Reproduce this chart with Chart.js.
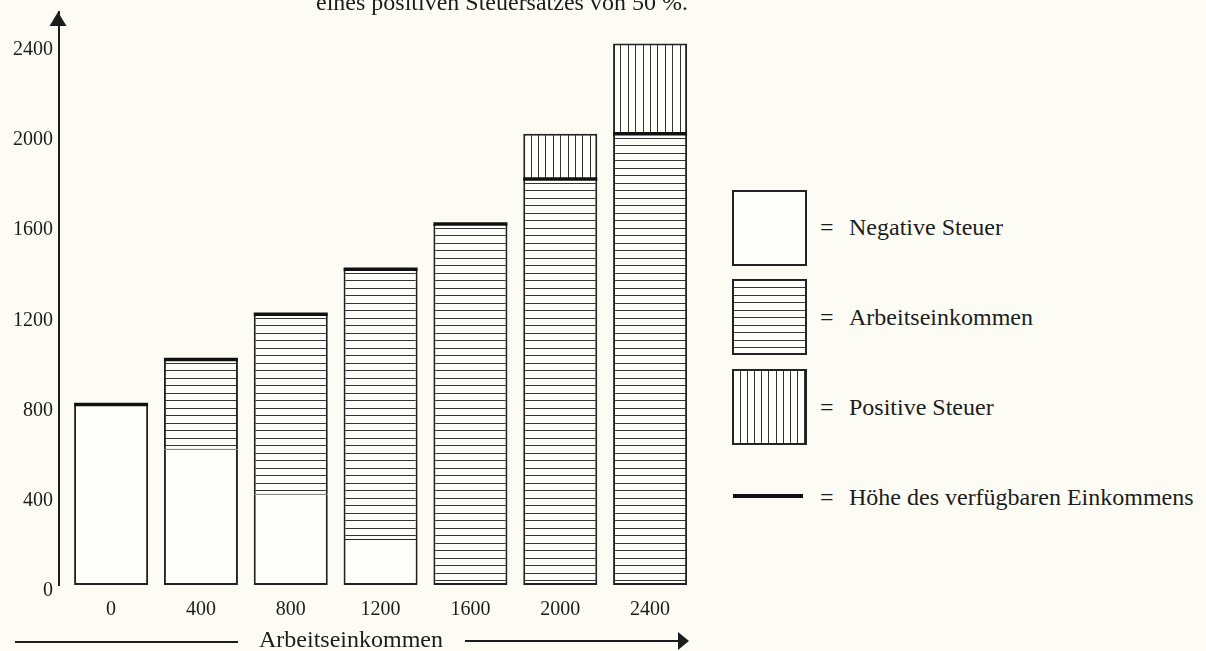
<!DOCTYPE html>
<html><head><meta charset="utf-8">
<script src="https://cdn.jsdelivr.net/npm/chart.js@4.4.1/dist/chart.umd.min.js"></script>
<style>
html,body{margin:0;padding:0;background:#fcfcf5;}
body{width:1206px;height:651px;position:relative;overflow:hidden;font-family:"Liberation Serif","DejaVu Serif",serif;color:#1c1c1c;}
#wrap{position:absolute;left:0;top:0;width:720px;height:651px;}
.title{position:absolute;left:316px;top:-9px;font-size:24px;line-height:22px;white-space:nowrap;}
.xt{position:absolute;left:259px;top:627px;font-size:24px;line-height:24px;white-space:nowrap;}
.ln{position:absolute;height:2px;background:#1c1c1c;}
.arrow{position:absolute;width:0;height:0;border-top:9px solid transparent;border-bottom:9px solid transparent;border-left:11px solid #1c1c1c;}
.box{position:absolute;left:732px;width:71px;height:72px;border:2px solid #222;background:#fefefb;}
.box.h{background:repeating-linear-gradient(to bottom,#fefefb 0px,#fefefb 6.5px,#333 6.5px,#333 7.5px);}
.box.v{background:repeating-linear-gradient(to right,#fefefb 0px,#fefefb 6.1px,#333 6.1px,#333 7.1px);}
.lgline{position:absolute;left:733px;width:70px;height:4px;background:#111;}
.lt{position:absolute;left:820px;font-size:24px;line-height:24px;white-space:nowrap;}
.lt span{display:inline-block;width:29px;}
</style></head><body>
<div id="wrap"><canvas id="c"></canvas></div>
<div class="title">eines positiven Steuersatzes von 50 %.</div>
<div class="ln" style="left:15px;top:641px;width:223px;"></div>
<div class="xt" id="xtitle"></div>
<div class="ln" style="left:465px;top:640px;width:215px;"></div>
<div class="arrow" style="left:678px;top:632px;"></div>
<div id="legend"></div>
<script>
// ---- data ----
const categories   = [0, 400, 800, 1200, 1600, 2000, 2400];
const negativeTax  = [800, 600, 400, 200, null, null, null];
const laborIncome  = [null, 400, 800, 1200, 1600, 1800, 2000];
const positiveTax  = [null, null, null, null, null, 200, 400];
const disposable   = [800, 1000, 1200, 1400, 1600, 1800, 2000];
const yTicks       = [0, 400, 800, 1200, 1600, 2000, 2400];
const seriesNames  = ['Negative Steuer', 'Arbeitseinkommen', 'Positive Steuer', 'Höhe des verfügbaren Einkommens'];
const xAxisTitle   = 'Arbeitseinkommen';

document.getElementById('xtitle').textContent = xAxisTitle;

// legend (HTML)
const lg = document.getElementById('legend');
const boxTops = [190, 279, 369];
const boxCls = ['', 'h', 'v'];
const textTops = [215, 305, 395, 485];
seriesNames.forEach((name, i) => {
  if (i < 3) {
    const b = document.createElement('div');
    b.className = 'box ' + boxCls[i];
    b.style.top = boxTops[i] + 'px';
    lg.appendChild(b);
  } else {
    const l = document.createElement('div');
    l.className = 'lgline';
    l.style.top = '494px';
    lg.appendChild(l);
  }
  const t = document.createElement('div');
  t.className = 'lt';
  t.style.top = textTops[i] + 'px';
  t.innerHTML = '<span>=</span>';
  t.appendChild(document.createTextNode(name));
  lg.appendChild(t);
});

const FILL = '#fefefb', EDGE = '#222', HATCH = '#333';
function hPattern() {
  const c = document.createElement('canvas');
  c.width = 8; c.height = 15;
  const g = c.getContext('2d');
  g.fillStyle = FILL; g.fillRect(0, 0, 8, 15);
  g.fillStyle = HATCH; g.fillRect(0, 3, 8, 1); g.fillRect(0, 10, 8, 1);
  return g.createPattern(c, 'repeat');
}
const toXY = arr => arr.map((v, i) => ({x: categories[i], y: v}));

const POS_INDEX = 2;
const vHatch = {
  id: 'vHatch',
  afterDatasetDraw(chart, args) {
    if (args.index !== POS_INDEX) return;
    const ctx = chart.ctx;
    ctx.save();
    ctx.strokeStyle = HATCH; ctx.lineWidth = 1;
    args.meta.data.forEach((el, i) => {
      if (positiveTax[i] == null) return;
      const {x, y, base, width} = el.getProps(['x', 'y', 'base', 'width'], true);
      for (let k = 1; k < 10; k++) {
        const xx = Math.round(x - width / 2 + width * k / 10) + 0.5;
        ctx.beginPath(); ctx.moveTo(xx, y + 1); ctx.lineTo(xx, base); ctx.stroke();
      }
    });
    ctx.restore();
  }
};
const yArrow = {
  id: 'yArrow',
  afterDraw(chart) {
    const {ctx, chartArea} = chart;
    const x = chartArea.left - 1;
    const top = chartArea.top;
    ctx.save();
    ctx.fillStyle = '#1c1c1c';
    ctx.beginPath();
    ctx.moveTo(x, top); ctx.lineTo(x - 8.5, top + 14); ctx.lineTo(x + 8.5, top + 14); ctx.closePath();
    ctx.fill();
    ctx.restore();
  }
};

const tickFont = {family: '"Liberation Serif","DejaVu Serif",serif', size: 20};
const halfBar = ctx => {
  const el = ctx.chart.getDatasetMeta(1).data[ctx.dataIndex];
  return el && isFinite(el.width) ? el.width / 2 : 37;
};

new Chart(document.getElementById('c'), {
  type: 'bar',
  data: {
    datasets: [
      {
        label: seriesNames[0], data: toXY(negativeTax), order: 1,
        backgroundColor: FILL, borderColor: EDGE, borderSkipped: false,
        borderWidth: {left: 2, right: 2, bottom: 2, top: 0}
      },
      {
        label: seriesNames[1], data: toXY(laborIncome), order: 1,
        backgroundColor: hPattern(), borderColor: EDGE, borderSkipped: false,
        borderWidth: ctx => ({left: 2, right: 2, top: 0, bottom: negativeTax[ctx.dataIndex] == null ? 2 : 1})
      },
      {
        label: seriesNames[2], data: toXY(positiveTax), order: 1,
        backgroundColor: FILL, borderColor: EDGE, borderSkipped: false,
        borderWidth: {left: 2, right: 2, top: 2, bottom: 0}
      },
      {
        type: 'line', label: seriesNames[3], data: toXY(disposable), order: 0,
        showLine: false, pointStyle: 'line', borderColor: '#111', backgroundColor: '#111',
        pointBorderWidth: 3.5, pointHoverBorderWidth: 3.5,
        pointRadius: halfBar, pointHoverRadius: halfBar, clip: false
      }
    ]
  },
  options: {
    responsive: true, maintainAspectRatio: false, animation: false,
    events: [],
    layout: {autoPadding: false, padding: {left: 0, right: 25, top: 12, bottom: 0}},
    datasets: {bar: {categoryPercentage: 1, barPercentage: 0.824}},
    plugins: {legend: {display: false}, tooltip: {enabled: false}},
    scales: {
      x: {
        type: 'linear', stacked: true, offset: false, min: -232, max: 2600,
        grid: {display: false}, border: {display: false},
        afterBuildTicks: s => { s.ticks = categories.map(v => ({value: v})); },
        afterFit: s => { s.height = 66; s.paddingLeft = 0; s.paddingRight = 0; },
        ticks: {font: tickFont, color: '#1c1c1c', padding: 5, maxRotation: 0, autoSkip: false,
                callback: v => String(v)}
      },
      y: {
        type: 'linear', stacked: true, min: 0, max: 2540,
        grid: {display: false}, border: {display: true, color: '#1c1c1c', width: 2},
        afterBuildTicks: s => { s.ticks = yTicks.map(v => ({value: v})); },
        afterFit: s => { s.width = 59; s.paddingTop = 0; s.paddingBottom = 0; },
        ticks: {font: tickFont, color: '#1c1c1c', padding: -2, labelOffset: 6, callback: v => String(v)}
      }
    }
  },
  plugins: [vHatch, yArrow]
});
</script>
</body></html>
